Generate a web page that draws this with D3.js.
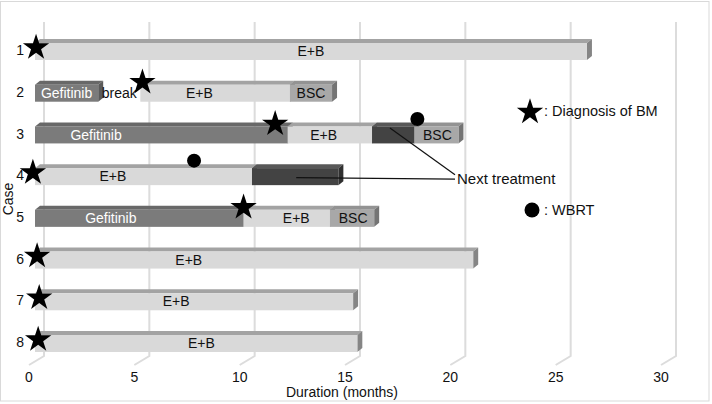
<!DOCTYPE html>
<html><head><meta charset="utf-8">
<script src="https://cdn.jsdelivr.net/npm/d3@7"></script>
<style>body{margin:0;background:#fff}svg{display:block;font-family:"Liberation Sans",Arial,Helvetica,sans-serif}</style>
</head><body><svg id="c" width="712" height="404"></svg>
<script>
// ---- data ----
const cases = ["1","2","3","4","5","6","7","8"];
const xTicks = [0,5,10,15,20,25,30];
const segCase      = ["1","2","2","2","2","3","3","3","3","4","4","5","5","5","6","7","8"];
const segTreatment = ["E+B","Gefitinib","break","E+B","BSC","Gefitinib","E+B","Next","BSC","E+B","Next","Gefitinib","E+B","BSC","E+B","E+B","E+B"];
const segStart     = [0,0,3.0,5.0,12.1,0,12.0,16.0,18.0,0,10.3,0,9.9,14.0,0,0,0];
const segEnd       = [26.2,3.0,5.0,12.1,14.1,12.0,16.0,18.0,20.1,10.3,14.4,9.9,14.0,16.1,20.8,15.1,15.3];
const segLabel     = ["E+B","Gefitinib","break","E+B","BSC","Gefitinib","E+B","","BSC","E+B","","Gefitinib","E+B","BSC","E+B","E+B","E+B"];
const segLabelAt   = [13.1,1.5,4.0,7.8,13.1,2.9,13.7,0,19.1,3.7,0,3.6,12.4,15.1,7.3,6.7,7.9];
const starCase  = ["1","2","3","4","5","6","7","8"];
const starMonth = [0.05,5.1,11.4,-0.1,9.9,0.1,0.2,0.15];
const wbrtCase  = ["3","4"];
const wbrtMonth = [18.15,7.55];

// ---- styles ----
const fill = {"E+B":"#d9d9d9","Gefitinib":"#7b7b7b","Next":"#434343","BSC":"#a8a8a8"};
const topFill = {"E+B":"#a3a3a3","Gefitinib":"#686868","Next":"#585858","BSC":"#939393"};
const sideFill = {"E+B":"#858585","Gefitinib":"#5a5a5a","Next":"#303030","BSC":"#747474"};

const svg = d3.select("#c");
svg.append("rect").attr("x",0.5).attr("y",1.5).attr("width",708.5).attr("height",399.5)
  .attr("fill","none").attr("stroke","#d9d9d9").attr("stroke-width",1);

const x = d3.scaleLinear().domain([0,30]).range([29,661]);   // front plane
const depthX = 15, depthY = -9;                                // back-wall offset
const barOff = 6;                                              // bar front-face offset
const y = d3.scalePoint().domain(cases).range([50.5,342.5]);
const bh = 17, bdx = 5, bdy = -4;

// gridlines (back wall + floor)
const g = svg.append("g");
xTicks.forEach(t=>{
  const xb = x(t)+depthX;
  g.append("path").attr("d",`M${xb},22 L${xb},356 L${x(t)},365`)
    .attr("fill","none").attr("stroke","#dcdcdc").attr("stroke-width",2);
});

// tick labels
svg.append("g").selectAll("text").data(xTicks).join("text")
  .attr("x",d=>x(d)).attr("y",382).attr("text-anchor","middle")
  .attr("font-size",14).attr("fill","#111").text(d=>d);
svg.append("text").attr("x",342).attr("y",397).attr("text-anchor","middle")
  .attr("font-size",14).attr("fill","#111").text("Duration (months)");

// case labels
svg.append("g").selectAll("text").data(cases).join("text")
  .attr("x",24).attr("y",d=>y(d)+1).attr("text-anchor","end").attr("dominant-baseline","middle")
  .attr("font-size",14).attr("fill","#111").text(d=>d);
svg.append("text").attr("transform","translate(13,199) rotate(-90)").attr("text-anchor","middle")
  .attr("font-size",14).attr("fill","#111").text("Case");

// bars
const segs = segCase.map((c,i)=>({c,t:segTreatment[i],s:segStart[i],e:segEnd[i],lab:segLabel[i],la:segLabelAt[i]}));
const bx = v => x(v)+barOff;
const bars = svg.append("g");
segs.forEach(d=>{
  if(d.t==="break") return;
  const x0=bx(d.s), x1=bx(d.e), top=y(d.c)-bh/2+1, bot=top+bh;
  bars.append("path").attr("d",`M${x0},${top} L${x0+bdx},${top+bdy} L${x1+bdx},${top+bdy} L${x1},${top}Z`).attr("fill",topFill[d.t]);
  bars.append("path").attr("d",`M${x1},${top} L${x1+bdx},${top+bdy} L${x1+bdx},${bot+bdy} L${x1},${bot}Z`).attr("fill",sideFill[d.t]);
  bars.append("rect").attr("x",x0).attr("y",top).attr("width",x1-x0).attr("height",bh).attr("fill",fill[d.t]);
});
svg.append("g").selectAll("text").data(segs.filter(d=>d.lab)).join("text")
  .attr("x",d=>bx(d.la)).attr("y",d=>y(d.c)+2).attr("text-anchor","middle").attr("dominant-baseline","middle")
  .attr("font-size",14).attr("fill",d=>d.t==="Gefitinib"?"#fff":"#111").text(d=>d.lab);

// annotation lines for next treatment
const ann = svg.append("g").attr("stroke","#111").attr("stroke-width",1.2);
ann.append("line").attr("x1",bx(16.85)).attr("y1",y("3")-6).attr("x2",455).attr("y2",y("4")-1);
ann.append("line").attr("x1",bx(12.4)).attr("y1",y("4")+2).attr("x2",455).attr("y2",y("4")+3.5);
svg.append("text").attr("x",457).attr("y",y("4")+4).attr("dominant-baseline","middle")
  .attr("font-size",15).attr("fill","#111").text("Next treatment");

// stars
const star = d3.symbol().type(d3.symbolStar).size(215);
svg.append("g").selectAll("path").data(starCase.map((c,i)=>({c,m:starMonth[i]}))).join("path")
  .attr("d",star).attr("fill","#000")
  .attr("transform",d=>`translate(${bx(d.m)},${y(d.c)+(d.m>1?-10:-3)})`);
// WBRT circles
svg.append("g").selectAll("circle").data(wbrtCase.map((c,i)=>({c,m:wbrtMonth[i]}))).join("circle")
  .attr("cx",d=>bx(d.m)).attr("cy",d=>y(d.c)-15).attr("r",7).attr("fill","#000");

// legend
svg.append("path").attr("d",star).attr("transform","translate(530,112)").attr("fill","#000");
svg.append("text").attr("x",544).attr("y",112).attr("dominant-baseline","middle").attr("font-size",14.5).attr("fill","#111").text(": Diagnosis of BM");
svg.append("circle").attr("cx",532).attr("cy",210).attr("r",7.5).attr("fill","#000");
svg.append("text").attr("x",544).attr("y",211).attr("dominant-baseline","middle").attr("font-size",14.5).attr("fill","#111").text(": WBRT");
</script></body></html>
